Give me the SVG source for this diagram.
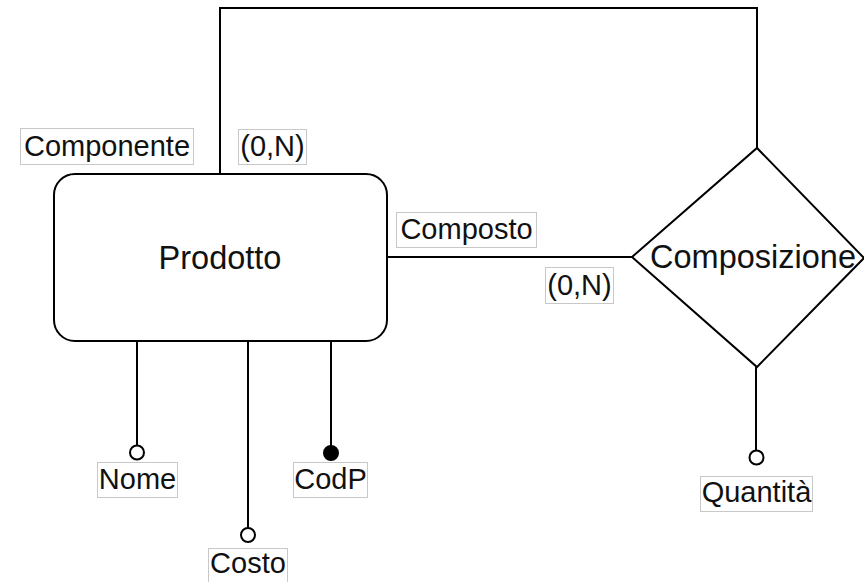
<svg xmlns="http://www.w3.org/2000/svg" width="864" height="582" viewBox="0 0 864 582">
<style>
.shape{fill:#fff;stroke:#000;stroke-width:2}
.edge{fill:none;stroke:#000;stroke-width:2}
.lbl{fill:#fff;stroke:#c8c8c8;stroke-width:1}
.t{font-family:"Liberation Sans",Arial,sans-serif;fill:#111;text-anchor:middle}
.big{font-size:32.5px}
.sm{font-size:29px}
.open{fill:#fff;stroke:#000;stroke-width:2}
.fill{fill:#000;stroke:#000;stroke-width:2}
</style>
<rect width="864" height="582" fill="#fff"/>
<g id="connectors">
<polyline class="edge" points="220,174 220,8 757,8 757,148"/>
<line class="edge" x1="387" y1="257" x2="632" y2="257"/>
<line class="edge" x1="137" y1="341" x2="137" y2="445"/>
<line class="edge" x1="248" y1="341" x2="248" y2="528"/>
<line class="edge" x1="331" y1="341" x2="331" y2="446"/>
<line class="edge" x1="756" y1="367" x2="756" y2="450"/>
<g id="lbl-componente"><rect class="lbl" x="20.5" y="128.5" width="173" height="36"/><text class="t sm" x="107" y="156">Componente</text></g>
<g id="lbl-card1"><rect class="lbl" x="238.5" y="129.5" width="68" height="35"/><text class="t sm" x="272.5" y="156">(0,N)</text></g>
<g id="lbl-composto"><rect class="lbl" x="396.5" y="212.5" width="140" height="35"/><text class="t sm" x="466.5" y="239">Composto</text></g>
<g id="lbl-card2"><rect class="lbl" x="545.5" y="267.5" width="68" height="36"/><text class="t sm" x="579.5" y="295">(0,N)</text></g>
</g>
<g id="prodotto">
<rect class="shape" x="54" y="174" width="333" height="167" rx="21" ry="21"/>
<text class="t big" x="220" y="269">Prodotto</text>
</g>
<g id="composizione">
<polygon class="shape" points="632,257 757,148 864,258 757,367"/>
<text class="t big" x="753" y="268">Composizione</text>
</g>
<g id="attr-nome">
<circle class="open" cx="137" cy="452.5" r="7"/>
<rect class="lbl" x="97.5" y="462.5" width="80" height="35"/>
<text class="t sm" x="137.5" y="489">Nome</text>
</g>
<g id="attr-costo">
<circle class="open" cx="248" cy="535" r="7"/>
<rect class="lbl" x="208.5" y="548.5" width="79" height="36"/>
<text class="t sm" x="248" y="573">Costo</text>
</g>
<g id="attr-codp">
<circle class="fill" cx="331" cy="453" r="7"/>
<rect class="lbl" x="293.5" y="462.5" width="74" height="35"/>
<text class="t sm" x="330.5" y="489">CodP</text>
</g>
<g id="attr-quantita">
<circle class="open" cx="756.5" cy="457.5" r="7"/>
<rect class="lbl" x="700.5" y="476.5" width="112" height="35"/>
<text class="t sm" x="756.5" y="502">Quantità</text>
</g>
</svg>
